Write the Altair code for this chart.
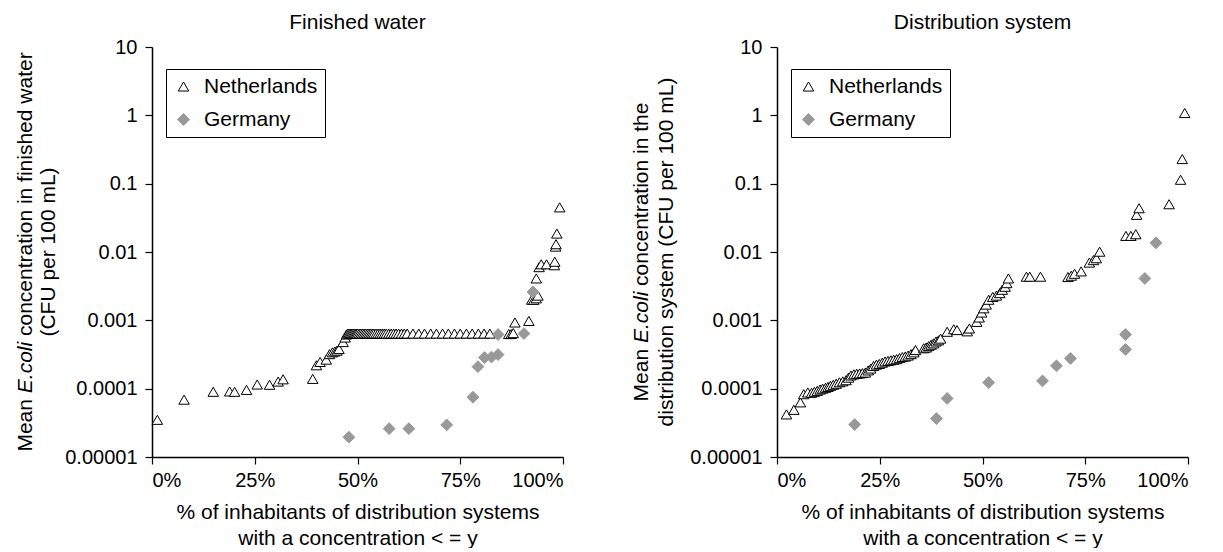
import altair as alt
import pandas as pd

FONT = "Liberation Sans"
DOMAIN = ["Netherlands", "Germany"]

# ---- Finished water panel ----
NL_FW_PCT = [1.3, 7.8, 14.9, 18.9, 20.1, 23.0, 25.6, 28.6, 30.7, 31.9, 39.1, 40.0, 40.9, 42.4,
             43.2, 43.9, 44.5, 45.0, 45.5, 46.5, 47.0, 47.3,
             47.6, 47.9, 48.2, 48.5, 48.8, 49.1, 49.4, 49.7, 50.0, 50.4, 50.8, 51.2, 51.6, 52.0,
             52.4, 52.8, 53.2, 53.6, 54.0, 54.5, 55.0, 55.5, 56.0, 56.5, 57.0, 57.6, 58.2, 58.8,
             59.4, 60.0, 60.7, 61.4, 62.1, 63.5, 64.9, 66.3, 67.8, 69.2, 70.7, 72.1, 73.6, 75.0,
             76.5, 77.9, 79.4, 80.8, 82.2,
             86.8, 87.4, 87.9, 88.3, 91.7, 92.4, 92.9, 93.5, 93.9, 93.5, 94.2, 94.7, 96.0, 97.9,
             98.0, 98.2, 98.3, 98.5, 99.2]
NL_FW_VAL = [3.5e-5, 6.9e-5, 9.0e-5, 9.1e-5, 9.0e-5, 9.6e-5, 1.15e-4, 1.14e-4, 1.27e-4, 1.37e-4,
             1.39e-4, 2.2e-4, 2.46e-4, 2.66e-4, 3.2e-4, 3.4e-4, 3.5e-4, 3.6e-4, 3.8e-4, 4.8e-4,
             5.6e-4, 6.2e-4,
             6.4e-4, 6.4e-4, 6.4e-4, 6.4e-4, 6.4e-4, 6.4e-4, 6.4e-4, 6.4e-4, 6.4e-4, 6.4e-4,
             6.4e-4, 6.4e-4, 6.4e-4, 6.4e-4, 6.4e-4, 6.4e-4, 6.4e-4, 6.4e-4, 6.4e-4, 6.4e-4,
             6.4e-4, 6.4e-4, 6.4e-4, 6.4e-4, 6.4e-4, 6.4e-4, 6.4e-4, 6.4e-4, 6.4e-4, 6.4e-4,
             6.4e-4, 6.4e-4, 6.4e-4, 6.4e-4, 6.4e-4, 6.4e-4, 6.4e-4, 6.4e-4, 6.4e-4, 6.4e-4,
             6.4e-4, 6.4e-4, 6.4e-4, 6.4e-4, 6.4e-4, 6.4e-4, 6.4e-4,
             6.3e-4, 6.3e-4, 6.5e-4, 9.3e-4, 9.8e-4, 2.0e-3, 2.0e-3, 2.1e-3, 2.3e-3, 4.1e-3,
             6.0e-3, 6.6e-3, 6.6e-3, 6.4e-3, 7.2e-3, 0.012, 0.013, 0.0186, 0.045]
DE_FW_PCT = [47.9, 57.7, 62.5, 71.7, 78.1, 79.3, 80.9, 82.6, 84.2, 84.2, 90.5, 92.7]
DE_FW_VAL = [1.95e-5, 2.6e-5, 2.6e-5, 2.95e-5, 7.5e-5, 2.1e-4, 2.85e-4, 2.9e-4, 3.15e-4,
             6.2e-4, 6.4e-4, 2.6e-3]

# ---- Distribution system panel ----
NL_DS_PCT = [2.3, 4.1, 5.7, 6.5, 7.5, 8.4, 9.1, 9.8, 10.5, 11.1, 11.8, 12.4, 13.0, 13.7, 14.4,
             15.2, 16.0, 16.8, 17.4, 18.0, 18.7, 19.4, 20.1, 20.8, 21.5, 22.2, 22.8, 23.5, 24.2,
             24.9, 25.6, 26.3, 27.0, 27.7, 28.4, 29.1, 29.8, 30.5, 31.2, 31.9, 32.6, 33.3, 33.7,
             35.7, 36.3, 36.9, 37.5, 38.1, 38.7, 39.3, 39.8, 41.4, 43.0, 43.8, 46.3, 46.8, 48.6,
             49.2, 49.8, 50.3, 50.9, 51.5, 52.5, 53.4, 54.2, 54.8, 55.5, 55.9, 56.3, 60.7, 61.5,
             64.1, 70.8, 71.6, 72.4, 74.0, 76.0, 77.0, 77.7, 78.5, 84.9, 86.1, 87.3, 87.5, 88.1,
             95.4, 98.2, 98.6, 99.2]
NL_DS_VAL = [4.2e-5, 4.9e-5, 6.3e-5, 8.3e-5, 8.8e-5, 8.7e-5, 9.0e-5, 9.3e-5, 9.7e-5, 1.0e-4,
             1.03e-4, 1.06e-4, 1.1e-4, 1.14e-4, 1.18e-4, 1.24e-4, 1.28e-4, 1.33e-4, 1.45e-4,
             1.56e-4, 1.62e-4, 1.65e-4, 1.67e-4, 1.69e-4, 1.72e-4, 1.85e-4, 1.97e-4, 2.15e-4,
             2.25e-4, 2.3e-4, 2.4e-4, 2.5e-4, 2.55e-4, 2.6e-4, 2.65e-4, 2.7e-4, 2.8e-4, 2.9e-4,
             2.95e-4, 3.05e-4, 3.2e-4, 3.4e-4, 3.67e-4, 3.9e-4, 4.0e-4, 4.2e-4, 4.4e-4, 4.6e-4,
             4.9e-4, 5.1e-4, 5.4e-4, 6.8e-4, 7.4e-4, 7.2e-4, 6.9e-4, 7.6e-4, 9.5e-4, 1.1e-3,
             1.3e-3, 1.5e-3, 1.7e-3, 2.0e-3, 2.2e-3, 2.3e-3, 2.5e-3, 2.8e-3, 3.1e-3, 3.5e-3,
             4.1e-3, 4.35e-3, 4.35e-3, 4.35e-3, 4.3e-3, 4.5e-3, 4.8e-3, 5.2e-3, 7.0e-3, 7.6e-3,
             8.1e-3, 0.0101, 0.0172, 0.0172, 0.0182, 0.035, 0.0437, 0.050, 0.114, 0.229, 1.08]
DE_DS_PCT = [18.9, 38.8, 41.4, 51.5, 64.6, 68.0, 71.4, 84.8, 84.8, 89.5, 92.2]
DE_DS_VAL = [2.98e-5, 3.65e-5, 7.2e-5, 1.23e-4, 1.30e-4, 2.16e-4, 2.77e-4, 3.75e-4, 6.2e-4,
             4.1e-3, 0.0136]

Y_TICKS = [1e-5, 1e-4, 1e-3, 1e-2, 1e-1, 1, 10]
X_TICKS = [0, 0.25, 0.5, 0.75, 1.0]
X_TITLE = ["% of inhabitants of distribution systems", "with a concentration < = y"]

W, H = 411, 410


def make_df(nl_p, nl_v, de_p, de_v):
    assert len(nl_p) == len(nl_v) and len(de_p) == len(de_v)
    rows = [{"country": "Netherlands", "pct": p / 100.0, "conc": v} for p, v in zip(nl_p, nl_v)]
    rows += [{"country": "Germany", "pct": p / 100.0, "conc": v} for p, v in zip(de_p, de_v)]
    return pd.DataFrame(rows)


def text_layer(txt, x, y, align, italic=False):
    return alt.Chart(pd.DataFrame({"t": [txt]})).mark_text(
        angle=270, align=align, baseline="alphabetic", fontSize=21, font=FONT,
        fontStyle="italic" if italic else "normal", color="black"
    ).encode(x=alt.value(x), y=alt.value(y), text="t:N")


def panel(df, title, segs, line2, x1, x2):
    legend = alt.Legend(
        title=None, orient="none", legendX=14, legendY=22, strokeColor="black",
        fillColor="white", padding=7, rowPadding=11, labelFontSize=21, labelFont=FONT,
        labelColor="black", symbolStrokeWidth=1, labelOffset=10, symbolOpacity=1,
    )
    pts = alt.Chart(df).mark_point(opacity=1, strokeWidth=1).encode(
        x=alt.X("pct:Q", scale=alt.Scale(domain=[0, 1], nice=False, zero=False),
                axis=alt.Axis(values=X_TICKS, format=".0%", title=X_TITLE, labelPadding=6,
                              titlePadding=11, titleLineHeight=26)),
        y=alt.Y("conc:Q", scale=alt.Scale(type="log", domain=[1e-5, 10], nice=False),
                axis=alt.Axis(values=Y_TICKS, format=".5~f", title=None)),
        shape=alt.Shape("country:N", scale=alt.Scale(domain=DOMAIN, range=["triangle-up", "diamond"]), legend=legend),
        fill=alt.Fill("country:N", scale=alt.Scale(domain=DOMAIN, range=["white", "#999999"]), legend=legend),
        stroke=alt.Stroke("country:N", scale=alt.Scale(domain=DOMAIN, range=["black", "#999999"]), legend=legend),
        size=alt.Size("country:N", scale=alt.Scale(domain=DOMAIN, range=[110, 140]), legend=legend),
    )
    layers = [pts]
    for txt, y, italic in segs:
        layers.append(text_layer(txt, x1, y, "left", italic))
    layers.append(text_layer(line2, x2, H / 2, "center"))
    return alt.layer(*layers).properties(
        width=W, height=H,
        title=alt.TitleParams(text=title, frame="group", anchor="middle", fontSize=21,
                              font=FONT, fontWeight="normal", color="black", offset=4),
    )


left = panel(
    make_df(NL_FW_PCT, NL_FW_VAL, DE_FW_PCT, DE_FW_VAL), "Finished water",
    [("Mean", 404.6, False), ("E.coli", 346.2, True), ("concentration in finished water", 289.0, False)],
    "(CFU per 100 mL)", -120, -97,
)
right = panel(
    make_df(NL_DS_PCT, NL_DS_VAL, DE_DS_PCT, DE_DS_VAL), "Distribution system",
    [("Mean", 354.4, False), ("E.coli", 296.0, True), ("concentration in the", 238.9, False)],
    "distribution system (CFU per 100 mL)", -129, -104,
)

chart = alt.hconcat(left, right, spacing=63).resolve_scale(
    shape="independent", fill="independent", stroke="independent", size="independent"
).resolve_legend(
    shape="independent", fill="independent", stroke="independent", size="independent"
).properties(
    padding={"left": 6, "top": 4, "right": 0, "bottom": 0}
).configure_view(stroke=None).configure_axis(
    grid=False, domainColor="black", domainWidth=1.5, tickColor="black", tickWidth=1.2,
    tickSize=7, labelFont=FONT, labelFontSize=20, labelColor="black", labelPadding=8,
    titleFont=FONT, titleFontSize=21, titleFontWeight="normal", titleColor="black",
    titleLineHeight=26, titlePadding=6,
)

chart.save("out.html", embed_options={"renderer": "svg", "actions": False})
